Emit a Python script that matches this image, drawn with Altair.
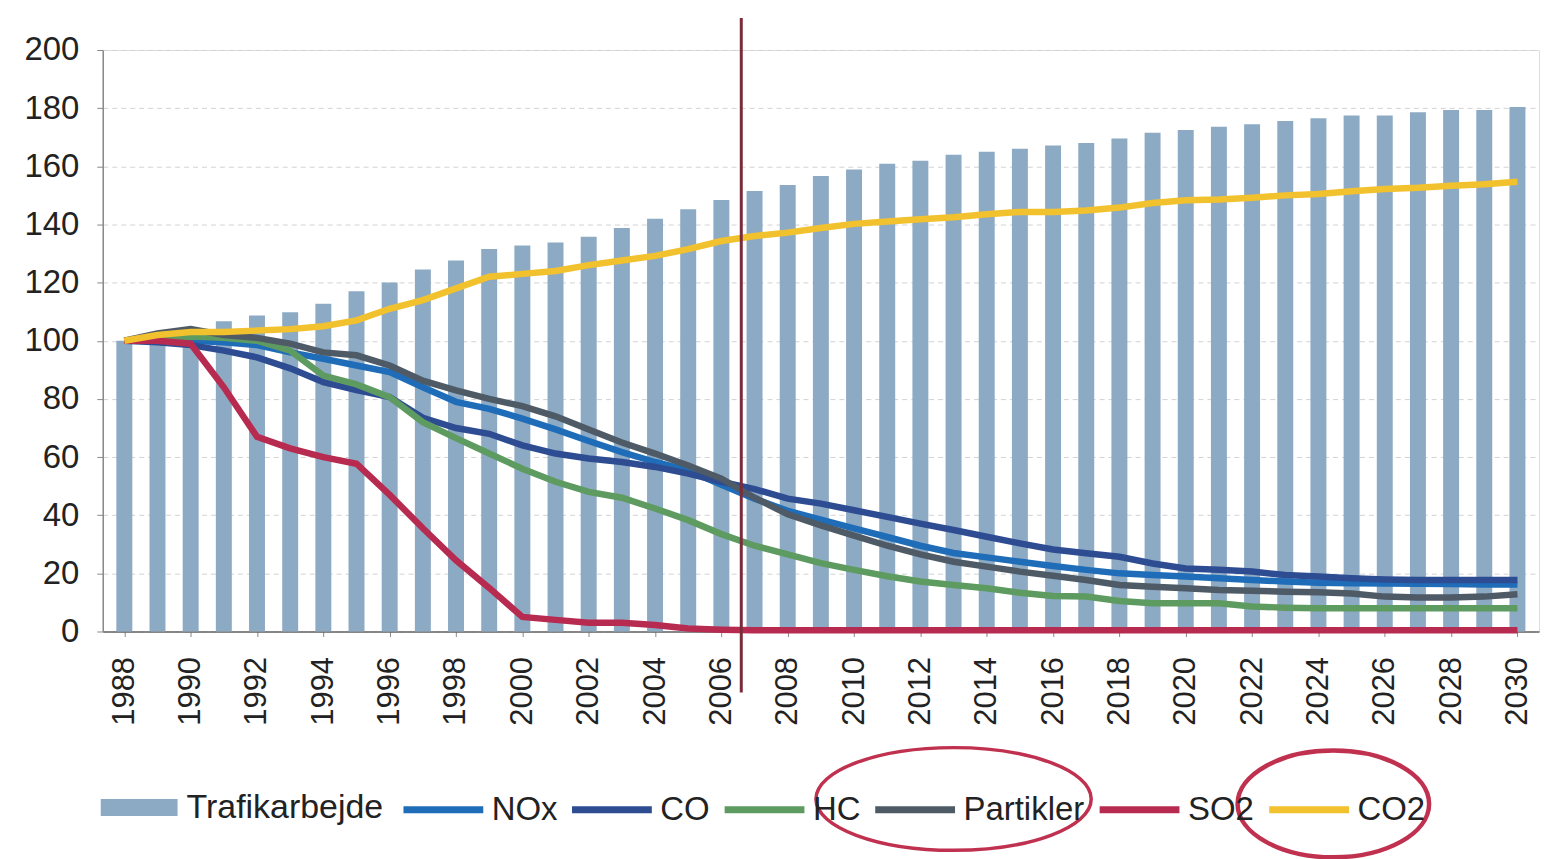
import altair as alt
import pandas as pd

years = list(range(1988, 2031))

trafikarbejde = [100, 101.5, 103, 106.7, 108.7, 109.8, 112.7, 117, 120, 124.5,
                 127.6, 131.6, 132.8, 133.8, 135.8, 138.8, 142, 145.2, 148.4, 151.5,
                 153.6, 156.7, 158.9, 160.9, 161.9, 164, 165, 166, 167.2, 168,
                 169.6, 171.5, 172.5, 173.6, 174.5, 175.6, 176.5, 177.5, 177.5, 178.6,
                 179.4, 179.4, 180.4]

nox = [100, 100.5, 100, 99.5, 98.5, 96, 93.8, 91.5, 89.2, 84,
       79, 76.6, 73.2, 69.5, 65.5, 61.7, 58.3, 55.4, 50.5, 45.7,
       41.5, 38.5, 35.5, 32.5, 29.5, 27, 25.5, 24, 22.5, 21.2,
       20, 19.4, 18.9, 18.3, 17.7, 17.2, 16.8, 16.6, 16.5, 16.4,
       16.3, 16.2, 16.2]

co = [100, 99.5, 98.5, 96.6, 94.3, 90.5, 85.8, 83, 80.6, 73.5,
      70, 68, 64, 61.2, 59.5, 58.3, 56.6, 54.3, 51.5, 49,
      45.7, 44, 41.7, 39.4, 37.1, 34.9, 32.6, 30.3, 28.2, 26.9,
      25.7, 23.4, 21.7, 21.2, 20.6, 19.4, 18.9, 18.3, 17.9, 17.7,
      17.7, 17.7, 17.7]

hc = [100, 101, 101.5, 101, 100, 96.6, 88, 85, 80.6, 72,
      66.5, 61.2, 56, 51.5, 48, 46, 42.3, 38.3, 33.5, 29.5,
      26.5, 23.5, 21.2, 19, 17.2, 16, 14.9, 13.3, 12.2, 12,
      10.5, 9.7, 9.7, 9.7, 8.6, 8.2, 8, 8, 8, 8,
      8, 8, 8]

partikler = [100, 102.5, 104, 102, 101, 99, 96, 95, 91.5, 86.3,
             82.9, 80, 77.5, 74, 69.5, 65, 61.2, 57.1, 52.6, 46,
             40.3, 36.5, 33, 29.5, 26.5, 24, 22.3, 20.6, 19.2, 17.7,
             16, 15.4, 14.9, 14.3, 14, 13.7, 13.5, 13.1, 12, 11.7,
             11.7, 12, 12.8]

so2 = [100, 100, 99, 84, 67, 63, 60, 57.7, 47, 35.5,
       24.5, 15, 5, 4, 3, 3, 2.2, 1, 0.6, 0.4,
       0.4, 0.4, 0.4, 0.4, 0.4, 0.4, 0.4, 0.4, 0.4, 0.4,
       0.4, 0.4, 0.4, 0.4, 0.4, 0.4, 0.4, 0.4, 0.4, 0.4,
       0.4, 0.4, 0.4]

co2 = [100, 102, 103, 103, 103.5, 104, 105, 107, 111, 114,
       118, 122, 123, 124, 126, 127.6, 129.2, 131.5, 134.3, 136,
       137.2, 138.8, 140.2, 141, 141.8, 142.5, 143.5, 144.3, 144.3, 144.8,
       145.8, 147.4, 148.3, 148.6, 149.2, 150, 150.5, 151.4, 152.2, 152.6,
       153.3, 153.8, 154.7]

line_names = ["NOx", "CO", "HC", "Partikler", "SO2", "CO2"]
line_values = [nox, co, hc, partikler, so2, co2]
line_colors = ["#1F6DB8", "#2D4C92", "#5E9B60", "#4E5A66", "#B72B50", "#F2C12E"]
bar_name = "Trafikarbejde"
bar_color = "#8DAAC4"

# vertical marker line (between 2006 and 2007)
marker_year = [2006.6]
marker_top = [211]
marker_bottom = [-21]

# hand-drawn highlight ellipses around legend entries
ellipse_names = ["Partikler", "CO2"]
ellipse_year = [2013.0, 2024.45]
ellipse_value = [-57.6, -59.3]

bar_df = pd.DataFrame({"year": years, "value": trafikarbejde, "serie": bar_name})
rows = []
for name, vals in zip(line_names, line_values):
    for y, v in zip(years, vals):
        rows.append({"year": y, "value": v, "serie": name})
line_df = pd.DataFrame(rows)
rule_df = pd.DataFrame({"year": marker_year, "top": marker_top, "bottom": marker_bottom})
ell_df = pd.DataFrame({"name": ellipse_names, "year": ellipse_year, "value": ellipse_value})

FONT = "Liberation Sans"
xscale = alt.Scale(domain=[1987.5, 2030.5], nice=False, zero=False)
yscale = alt.Scale(domain=[0, 200], nice=False)

x_enc = alt.X("year:Q", scale=xscale, title=None,
              axis=alt.Axis(values=years, format="d",
                            labelExpr="datum.value % 2 == 0 ? datum.label : ''",
                            labelAngle=-90, labelFontSize=31, labelFont=FONT,
                            labelColor="#222222", labelPadding=20, tickSize=5,
                            tickColor="#888888", domainColor="#666666",
                            domainWidth=1.5, grid=False, labelOverlap=False))
y_enc = alt.Y("value:Q", scale=yscale, title=None,
              axis=alt.Axis(values=list(range(0, 201, 20)), labelFontSize=33,
                            labelFont=FONT, labelColor="#222222", labelPadding=18,
                            tickSize=6, tickColor="#888888", domainColor="#8a8a8a",
                            domainWidth=1.5, grid=True, gridDash=[5, 4],
                            gridColor="#d2d2d2"))

bars = alt.Chart(bar_df).mark_bar(size=16).encode(
    x=x_enc, y=y_enc,
    fill=alt.Fill("serie:N", scale=alt.Scale(domain=[bar_name], range=[bar_color]),
                  legend=alt.Legend(title=None, orient="none", legendX=-2, legendY=721,
                                    direction="horizontal",
                                    symbolType="M-1,-0.22L1,-0.22L1,0.22L-1,0.22Z",
                                    symbolSize=5929, symbolStrokeWidth=0,
                                    symbolOpacity=1,
                                    labelFontSize=34, labelFont=FONT,
                                    labelColor="#222222", labelOffset=9, labelLimit=0,
                                    padding=0)),
)

lines = alt.Chart(line_df).mark_line(strokeWidth=6.5).encode(
    x=alt.X("year:Q", scale=xscale),
    y=alt.Y("value:Q", scale=yscale),
    stroke=alt.Stroke("serie:N", sort=line_names,
                      scale=alt.Scale(domain=line_names, range=line_colors),
                      legend=alt.Legend(title=None, orient="none", legendX=298, legendY=718,
                                        direction="horizontal", symbolType="stroke",
                                        symbolSize=6400, symbolStrokeWidth=7,
                                        labelFontSize=33, labelFont=FONT,
                                        labelColor="#222222", labelOffset=5,
                                        labelLimit=0, columnPadding=0, padding=0)),
    order=alt.Order("year:Q"),
)

rule = alt.Chart(rule_df).mark_rule(color="#7B2C3B", strokeWidth=3).encode(
    x=alt.X("year:Q", scale=xscale),
    y=alt.Y("top:Q", scale=yscale),
    y2="bottom:Q",
)

ell1 = alt.Chart(ell_df[ell_df["name"] == "Partikler"]).mark_point(
    shape="M-1,0A1,0.373 0 1,1 1,0A1,0.373 0 1,1 -1,0Z",
    size=276 * 276, filled=False, stroke="#C0304F", strokeWidth=3.5, opacity=1,
).encode(x=alt.X("year:Q", scale=xscale), y=alt.Y("value:Q", scale=yscale))

ell2 = alt.Chart(ell_df[ell_df["name"] == "CO2"]).mark_point(
    shape="M-1,0A1,0.557 0 1,1 1,0A1,0.557 0 1,1 -1,0Z",
    size=192 * 192, filled=False, stroke="#C0304F", strokeWidth=4.5, opacity=1,
).encode(x=alt.X("year:Q", scale=xscale), y=alt.Y("value:Q", scale=yscale))

chart = alt.layer(bars, lines, rule, ell1, ell2).resolve_scale(
    fill="independent", stroke="independent"
).properties(
    width=1440, height=583,
    padding={"left": 15, "top": 7, "right": 5, "bottom": 2},
).configure_view(stroke=None).configure(font=FONT, background="white")

chart.save("out.html", embed_options={"renderer": "svg", "actions": False})
